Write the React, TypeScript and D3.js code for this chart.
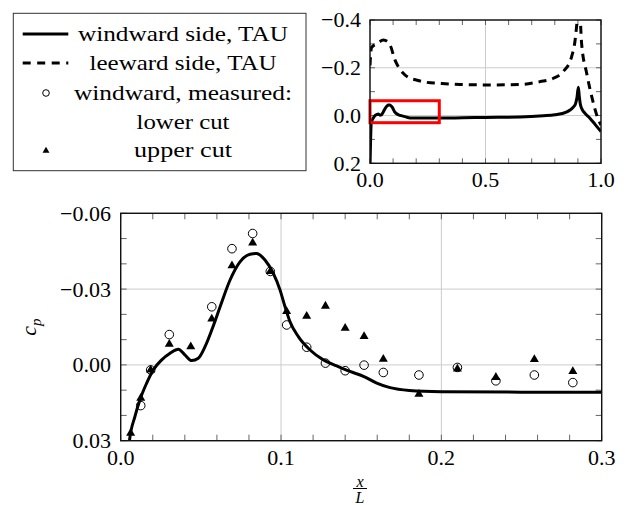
import React from 'react';
import * as d3 from 'd3';

const W = 626;
const H = 505;
const FONT = '"Liberation Serif", "Times New Roman", serif';

// ---- windward side, TAU (solid) ----
const windX = [0.0, 0.0054, 0.0089, 0.012, 0.0162, 0.0203, 0.0256, 0.0308, 0.036, 0.040, 0.0443, 0.0484, 0.0526, 0.0575, 0.062, 0.0682, 0.0744, 0.0807, 0.0848, 0.090, 0.0952, 0.0994, 0.1025, 0.1056, 0.1108, 0.1181, 0.1264, 0.1347, 0.143, 0.1514, 0.1597, 0.168, 0.18, 0.2, 0.25, 0.3, 0.4, 0.5, 0.65, 0.75, 0.8, 0.85, 0.866, 0.88, 0.89, 0.896, 0.902, 0.906, 0.91, 0.916, 0.93, 0.952, 0.975, 1.0];
const windCp = [0.22, 0.0303, 0.0204, 0.0138, 0.0072, 0.002, -0.002, -0.0046, -0.0062, -0.004, -0.0017, -0.0026, -0.0072, -0.015, -0.023, -0.0336, -0.0408, -0.0438, -0.0441, -0.0415, -0.0362, -0.0296, -0.023, -0.0171, -0.0112, -0.0059, -0.002, 0.0004, 0.0026, 0.0045, 0.0072, 0.009, 0.0101, 0.0106, 0.0108, 0.0108, 0.0095, 0.008, 0.006, 0.001, -0.003, -0.014, -0.023, -0.035, -0.05, -0.075, -0.118, -0.08, -0.05, -0.03, -0.01, 0.011, 0.038, 0.067];

// ---- leeward side, TAU (dashed, inset only) ----
const leeX = [0.0, 0.003, 0.007, 0.029, 0.058, 0.075, 0.087, 0.108, 0.144, 0.173, 0.2, 0.245, 0.3, 0.39, 0.53, 0.649, 0.736, 0.794, 0.837, 0.873, 0.887, 0.897, 0.905, 0.916, 0.938, 0.96, 0.984, 1.0];
const leeCp = [-0.21, -0.26, -0.285, -0.3, -0.316, -0.31, -0.295, -0.233, -0.177, -0.156, -0.149, -0.139, -0.135, -0.13, -0.128, -0.13, -0.142, -0.156, -0.184, -0.247, -0.309, -0.4, -0.48, -0.302, -0.177, -0.079, 0.005, 0.04];

// ---- measured, lower cut (open circles) ----
const lowerX = [0.0125, 0.0187, 0.0303, 0.0568, 0.0694, 0.0823, 0.0933, 0.1035, 0.116, 0.1277, 0.140, 0.1518, 0.1638, 0.186, 0.21, 0.234, 0.258, 0.282];
const lowerCp = [0.0161, 0.002, -0.012, -0.023, -0.046, -0.052, -0.037, -0.0158, -0.007, -0.0007, 0.0023, 0.0001, 0.003, 0.004, 0.001, 0.0063, 0.004, 0.007];

// ---- measured, upper cut (filled triangles) ----
const upperX = [0.0062, 0.0125, 0.0187, 0.0303, 0.0437, 0.0568, 0.0694, 0.0823, 0.0933, 0.1035, 0.116, 0.1277, 0.140, 0.1518, 0.1638, 0.186, 0.21, 0.234, 0.258, 0.282];
const upperCp = [0.027, 0.0132, 0.002, -0.0082, -0.0072, -0.0182, -0.0393, -0.0483, -0.037, -0.0212, -0.0193, -0.0233, -0.0145, -0.0113, -0.0023, 0.0116, 0.0016, 0.0049, -0.0022, 0.0026];

// ---- ticks ----
const mainXTicks = [0, 0.1, 0.2, 0.3];
const mainXLabels = ['0.0', '0.1', '0.2', '0.3'];
const mainYTicks = [-0.06, -0.03, 0, 0.03];
const mainYLabels = ['\u22120.06', '\u22120.03', '0.00', '0.03'];
const insetXTicks = [0, 0.5, 1];
const insetXLabels = ['0.0', '0.5', '1.0'];
const insetYTicks = [-0.4, -0.2, 0, 0.2];
const insetYLabels = ['\u22120.4', '\u22120.2', '0.0', '0.2'];

const legendLabels = ['windward side, TAU', 'leeward side, TAU', 'windward, measured:', 'lower cut', 'upper cut'];
const legendWidths = [210, 187, 218, 93, 98];

// scales
const mx = d3.scaleLinear().domain([0, 0.3]).range([120.7, 601.7]);
const my = d3.scaleLinear().domain([-0.06, 0.03]).range([213.3, 440.7]);
const ix = d3.scaleLinear().domain([0, 1]).range([370, 601]);
const iy = d3.scaleLinear().domain([-0.4, 0.2]).range([20, 163.3]);

const windPts: [number, number][] = windX.map((x, i) => [x, windCp[i]]);
const leePts: [number, number][] = leeX.map((x, i) => [x, leeCp[i]]);

function triPath(cx: number, cy: number, r: number) {
  const h = r * 1.5;
  const w = r * Math.sqrt(3);
  return `M${cx},${cy - r}L${cx + w / 2},${cy - r + h}L${cx - w / 2},${cy - r + h}Z`;
}

function Frame({ xs, ys, xMajor, yMajor, xMinor, yMinor, tl }: any) {
  const [x0, x1] = xs.range();
  const [y0, y1] = ys.range();
  return (
    <g>
      {xMajor.map((t: number, i: number) => (
        <line key={'gx' + i} x1={xs(t)} x2={xs(t)} y1={y0} y2={y1} stroke="#cccccc" strokeWidth={1} />
      ))}
      {yMajor.map((t: number, i: number) => (
        <line key={'gy' + i} x1={x0} x2={x1} y1={ys(t)} y2={ys(t)} stroke="#cccccc" strokeWidth={1} />
      ))}
      {xMinor.concat(xMajor).map((t: number, i: number) => (
        <g key={'tx' + i}>
          <line x1={xs(t)} x2={xs(t)} y1={y0} y2={y0 + tl} stroke="#555" strokeWidth={0.9} />
          <line x1={xs(t)} x2={xs(t)} y1={y1} y2={y1 - tl} stroke="#555" strokeWidth={0.9} />
        </g>
      ))}
      {yMinor.concat(yMajor).map((t: number, i: number) => (
        <g key={'ty' + i}>
          <line x1={x0} x2={x0 + tl} y1={ys(t)} y2={ys(t)} stroke="#555" strokeWidth={0.9} />
          <line x1={x1} x2={x1 - tl} y1={ys(t)} y2={ys(t)} stroke="#555" strokeWidth={0.9} />
        </g>
      ))}
    </g>
  );
}

function Border({ xs, ys }: any) {
  const [x0, x1] = xs.range();
  const [y0, y1] = ys.range();
  return <rect x={x0} y={y0} width={x1 - x0} height={y1 - y0} fill="none" stroke="#111" strokeWidth={1.4} />;
}

export default function App() {
  const mainLine = d3.line<[number, number]>().x(d => mx(d[0])).y(d => my(d[1])).curve(d3.curveMonotoneX);
  const insetLine = d3.line<[number, number]>().x(d => ix(d[0])).y(d => iy(d[1])).curve(d3.curveMonotoneX);

  const mainXMinor = d3.range(0, 0.3001, 0.02).filter(t => !mainXTicks.some(m => Math.abs(m - t) < 1e-6));
  const mainYMinor = d3.range(-0.06, 0.0301, 0.01).filter(t => !mainYTicks.some(m => Math.abs(m - t) < 1e-6));
  const insetXMinor = d3.range(0, 1.0001, 0.1).filter(t => !insetXTicks.some(m => Math.abs(m - t) < 1e-6));
  const insetYMinor = d3.range(-0.4, 0.2001, 0.1).filter(t => !insetYTicks.some(m => Math.abs(m - t) < 1e-6));

  const legendRowY = [34, 63, 93, 122, 150];
  const legendTextX = 183;

  return (
    <svg width={W} height={H} viewBox={`0 0 ${W} ${H}`} style={{ position: 'absolute', left: 0, top: 0, background: '#fff' }} fontFamily={FONT}>
      <defs>
        <clipPath id="clipMain">
          <rect x={mx.range()[0]} y={my.range()[0]} width={mx.range()[1] - mx.range()[0]} height={my.range()[1] - my.range()[0]} />
        </clipPath>
        <clipPath id="clipInset">
          <rect x={ix.range()[0]} y={iy.range()[0]} width={ix.range()[1] - ix.range()[0]} height={iy.range()[1] - iy.range()[0]} />
        </clipPath>
      </defs>
      <rect x={0} y={0} width={W} height={H} fill="#fff" />

      {/* ---------- legend ---------- */}
      <rect x={13.3} y={13.3} width={292.7} height={157.4} fill="#fff" stroke="#333" strokeWidth={1} />
      <line x1={22.7} x2={68.3} y1={legendRowY[0]} y2={legendRowY[0]} stroke="#000" strokeWidth={3} />
      <line x1={22.7} x2={68.3} y1={legendRowY[1]} y2={legendRowY[1]} stroke="#000" strokeWidth={3} strokeDasharray="8,6.5" />
      <circle cx={46} cy={legendRowY[2]} r={3.3} fill="#fff" stroke="#000" strokeWidth={1} />
      <path d={triPath(46, legendRowY[4] + 0.8, 4)} fill="#000" />
      {legendLabels.map((t, i) => (
        <text key={t} x={legendTextX} y={legendRowY[i]} dy="0.33em" textAnchor="middle" fontSize={22}
          textLength={legendWidths[i]} lengthAdjust="spacingAndGlyphs">{t}</text>
      ))}

      {/* ---------- inset ---------- */}
      <Frame xs={ix} ys={iy} xMajor={insetXTicks} yMajor={insetYTicks} xMinor={insetXMinor} yMinor={insetYMinor} tl={5} />
      <g clipPath="url(#clipInset)">
        <path d={insetLine(leePts) || ''} fill="none" stroke="#000" strokeWidth={3} strokeDasharray="8,6" />
        <path d={insetLine(windPts) || ''} fill="none" stroke="#000" strokeWidth={3} />
      </g>
      <rect x={ix(0)} y={iy(-0.062)} width={ix(0.3) - ix(0)} height={iy(0.03) - iy(-0.062)} fill="none" stroke="#ff0000" strokeWidth={3} />
      <Border xs={ix} ys={iy} />
      {insetXTicks.map((t, i) => (
        <text key={'ixl' + i} x={ix(t)} y={186.7} textAnchor="middle" fontSize={22}>{insetXLabels[i]}</text>
      ))}
      {insetYTicks.map((t, i) => (
        <text key={'iyl' + i} x={361} y={iy(t)} dy="0.34em" textAnchor="end" fontSize={22}>{insetYLabels[i]}</text>
      ))}

      {/* ---------- main plot ---------- */}
      <Frame xs={mx} ys={my} xMajor={mainXTicks} yMajor={mainYTicks} xMinor={mainXMinor} yMinor={mainYMinor} tl={6} />
      <g clipPath="url(#clipMain)">
        <path d={mainLine(windPts) || ''} fill="none" stroke="#000" strokeWidth={3} />
      </g>
      {lowerX.map((x, i) => (
        <circle key={'lc' + i} cx={mx(x)} cy={my(lowerCp[i])} r={4.3} fill="none" stroke="#000" strokeWidth={1} />
      ))}
      {upperX.map((x, i) => (
        <path key={'uc' + i} d={triPath(mx(x), my(upperCp[i]), 5.2)} fill="#000" />
      ))}
      <Border xs={mx} ys={my} />
      {mainXTicks.map((t, i) => (
        <text key={'mxl' + i} x={mx(t)} y={465} textAnchor="middle" fontSize={22}>{mainXLabels[i]}</text>
      ))}
      {mainYTicks.map((t, i) => (
        <text key={'myl' + i} x={111} y={my(t)} dy="0.34em" textAnchor="end" fontSize={22}>{mainYLabels[i]}</text>
      ))}

      {/* axis labels */}
      <text transform="translate(36,327) rotate(-90)" textAnchor="middle" fontSize={22}>
        <tspan fontStyle="italic">c</tspan>
        <tspan fontStyle="italic" fontSize={15} dy={5}>p</tspan>
      </text>
      <text x={360} y={486.5} textAnchor="middle" fontSize={16} fontStyle="italic">x</text>
      <line x1={353} x2={367} y1={488.5} y2={488.5} stroke="#000" strokeWidth={1} />
      <text x={360} y={503.3} textAnchor="middle" fontSize={16} fontStyle="italic">L</text>
    </svg>
  );
}
